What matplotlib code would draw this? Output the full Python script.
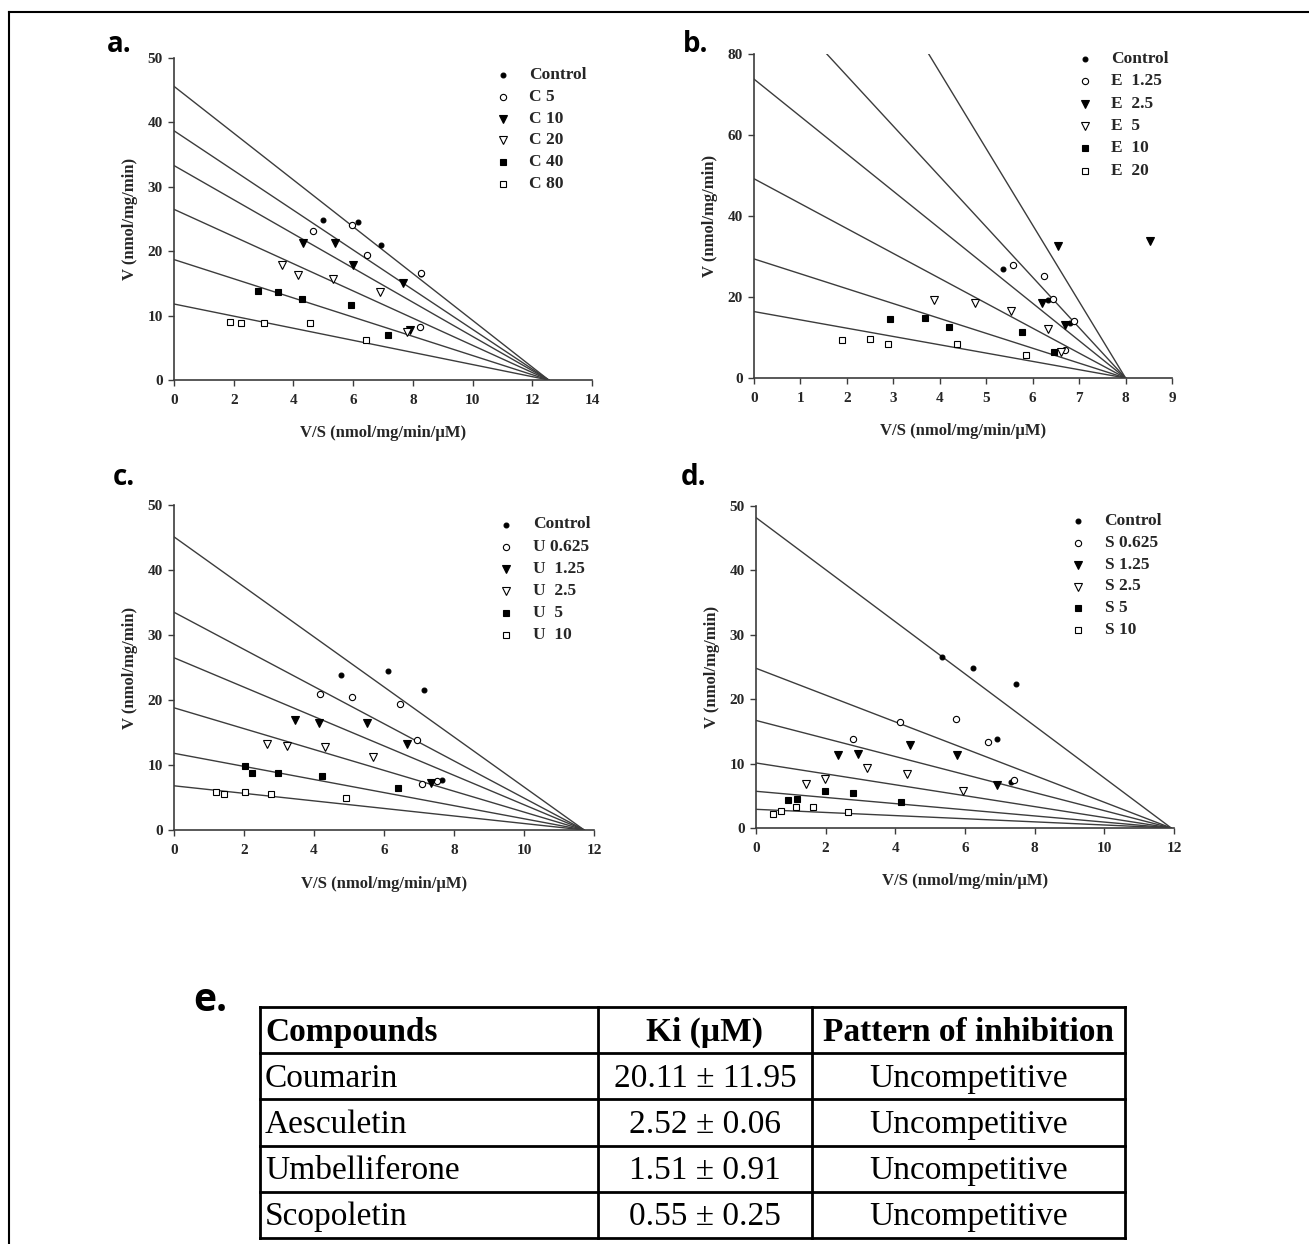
import numpy as np
import matplotlib
matplotlib.use("Agg")
import matplotlib.pyplot as plt
from matplotlib.lines import Line2D

plt.rcParams['font.family'] = ['Liberation Serif', 'DejaVu Serif']

INK = '#262626'
LINE = '#3c3c3c'

# ---- panel a: coumarin ----
A_LABELS = ['Control', 'C 5', 'C 10', 'C 20', 'C 40', 'C 80']
A_X = [[4.98, 6.17, 6.94, 8.28],
       [4.65, 5.97, 6.47, 8.26, 8.24],
       [4.32, 5.38, 5.98, 7.68, 7.89],
       [3.62, 4.16, 5.31, 6.90, 7.80],
       [2.82, 3.49, 4.30, 5.94, 7.18],
       [1.88, 2.26, 3.03, 4.54, 6.42]]
A_Y = [[24.8, 24.6, 20.9, 16.5],
       [23.2, 24.0, 19.4, 16.6, 8.3],
       [21.2, 21.2, 17.8, 15.1, 7.8],
       [17.9, 16.3, 15.7, 13.7, 7.5],
       [13.8, 13.7, 12.6, 11.7, 7.0],
       [9.0, 8.8, 8.8, 8.9, 6.2]]
A_VMAX = [45.6, 38.7, 33.3, 26.5, 18.7, 11.8]
A_XINT = 12.55

# ---- panel b: aesculetin ----
B_LABELS = ['Control', 'E  1.25', 'E  2.5', 'E  5', 'E  10', 'E  20']
B_X = [[5.36, 6.32, 6.80],
       [5.58, 6.25, 6.44, 6.69, 6.89],
       [6.55, 8.52, 6.21, 6.69],
       [3.87, 4.75, 5.53, 6.33, 6.60],
       [2.93, 3.69, 4.20, 5.76, 6.46],
       [1.90, 2.49, 2.88, 4.37, 5.85]]
B_Y = [[26.9, 19.2, 13.7],
       [28.0, 25.2, 19.4, 6.8, 14.0],
       [32.6, 33.8, 18.4, 13.0],
       [19.2, 18.6, 16.5, 12.2, 6.3],
       [14.5, 14.7, 12.5, 11.4, 6.4],
       [9.3, 9.7, 8.5, 8.5, 5.6]]
B_VMAX = [151.0, 99.5, 73.8, 49.2, 29.4, 16.4]
B_XINT = 8.0

# ---- panel c: umbelliferone ----
C_LABELS = ['Control', 'U 0.625', 'U  1.25', 'U  2.5', 'U  5', 'U  10']
C_X = [[4.78, 6.11, 7.14, 7.67],
       [4.16, 5.09, 6.46, 6.93, 7.08, 7.51],
       [3.45, 4.13, 5.52, 6.67, 7.34],
       [2.67, 3.24, 4.32, 5.69],
       [2.02, 2.24, 2.97, 4.24, 6.40],
       [1.21, 1.42, 2.02, 2.78, 4.92]]
C_Y = [[23.9, 24.5, 21.5, 7.7],
       [20.9, 20.4, 19.4, 13.9, 7.1, 7.6],
       [16.9, 16.4, 16.5, 13.3, 7.2],
       [13.2, 12.9, 12.8, 11.3],
       [9.9, 8.8, 8.8, 8.3, 6.4],
       [5.9, 5.5, 5.9, 5.5, 4.9]]
C_VMAX = [45.1, 33.5, 26.5, 18.8, 11.8, 6.8]
C_XINT = 11.72

# ---- panel d: scopoletin ----
D_LABELS = ['Control', 'S 0.625', 'S 1.25', 'S 2.5', 'S 5', 'S 10']
D_X = [[5.33, 6.22, 7.46, 6.93, 7.31],
       [4.13, 5.73, 6.66, 2.78, 7.40],
       [2.36, 2.93, 4.42, 5.78, 6.93],
       [1.43, 1.99, 3.20, 4.34, 5.93],
       [0.92, 1.19, 1.99, 2.79, 4.16],
       [0.50, 0.73, 1.15, 1.63, 2.63]]
D_Y = [[26.6, 24.9, 22.3, 13.8, 7.2],
       [16.5, 17.0, 13.3, 13.8, 7.4],
       [11.3, 11.5, 12.9, 11.3, 6.7],
       [6.9, 7.6, 9.3, 8.4, 5.7],
       [4.4, 4.5, 5.8, 5.4, 4.0],
       [2.2, 2.7, 3.2, 3.2, 2.5]]
D_VMAX = [48.2, 24.8, 16.7, 10.1, 5.7, 2.9]
D_XINT = 11.92

# ---- panel e: table ----
TABLE_HEADER = ['Compounds', 'Ki (\u00b5M)', 'Pattern of inhibition']
COMPOUNDS = ['Coumarin', 'Aesculetin', 'Umbelliferone', 'Scopoletin']
KI_VALUES = ['20.11 \u00b1 11.95', '2.52 \u00b1 0.06', '1.51 \u00b1 0.91', '0.55 \u00b1 0.25']
PATTERNS = ['Uncompetitive'] * 4

# marker styles for the six series: (marker, filled, size)
STYLES = [('o', True, 3.5), ('o', False, 4.5), ('v', True, 6),
          ('v', False, 6), ('s', True, 5), ('s', False, 5)]

W, H = 1309, 1244
fig = plt.figure(figsize=(W / 100, H / 100), dpi=100)


def box(l, t, r, b):
    return [l / W, 1 - b / H, (r - l) / W, (b - t) / H]


def panel(rect, xs, ys, vmax, xint, labels, xlim, xticks, ylim, yticks,
          leg_x, leg_y, leg_step):
    ax = fig.add_axes(rect)
    for v in vmax:
        ax.plot([0, xint], [v, 0], color=LINE, lw=1.0, zorder=2)
    for (m, filled, ms), x, y in zip(STYLES, xs, ys):
        ax.plot(x, y, ls='none', marker=m, ms=ms, mec='black', mew=0.8,
                mfc='black' if filled else 'white', zorder=3)
    ax.set_xlim(*xlim)
    ax.set_ylim(*ylim)
    ax.set_xticks(xticks)
    ax.set_yticks(yticks)
    for s in ['top', 'right']:
        ax.spines[s].set_visible(False)
    for s in ['left', 'bottom']:
        ax.spines[s].set_color(LINE)
        ax.spines[s].set_linewidth(1.2)
    ax.tick_params(direction='out', length=4, width=1, color=LINE,
                   labelsize=11, labelcolor=INK)
    ax.tick_params(axis='x', pad=6)
    ax.tick_params(axis='y', pad=4)
    for t in ax.get_xticklabels() + ax.get_yticklabels():
        t.set_fontweight('bold')
    ax.set_xlabel('V/S (nmol/mg/min/\u00b5M)', fontsize=12, fontweight='bold', color=INK)
    ax.set_ylabel('V (nmol/mg/min)', fontsize=12, fontweight='bold', color=INK)
    ax.xaxis.set_label_coords(0.5, -0.14)
    ax.yaxis.set_label_coords(-0.085, 0.5)
    # legend drawn by hand to match the original spacing
    for i, ((m, filled, ms), lab) in enumerate(zip(STYLES, labels)):
        yy = leg_y - i * leg_step
        ax.plot([leg_x], [yy], transform=ax.transAxes, ls='none', marker=m,
                ms=ms, mec='black', mew=0.8, mfc='black' if filled else 'white',
                clip_on=False)
        ax.text(leg_x + 0.064, yy, lab, transform=ax.transAxes, ha='left',
                va='center', fontsize=12.5, fontweight='bold', color=INK)
    return ax


panel(box(174, 58, 592, 380), A_X, A_Y, A_VMAX, A_XINT, A_LABELS,
      (0, 14), np.arange(0, 15, 2), (0, 50), np.arange(0, 51, 10),
      0.786, 0.948, 0.068)
panel(box(754, 54, 1172, 378), B_X, B_Y, B_VMAX, B_XINT, B_LABELS,
      (0, 9), np.arange(0, 10, 1), (0, 80), np.arange(0, 81, 20),
      0.791, 0.985, 0.069)
panel(box(174, 505, 594, 830), C_X, C_Y, C_VMAX, C_XINT, C_LABELS,
      (0, 12), np.arange(0, 13, 2), (0, 50), np.arange(0, 51, 10),
      0.791, 0.94, 0.068)
panel(box(756, 506, 1174, 828), D_X, D_Y, D_VMAX, D_XINT, D_LABELS,
      (0, 12), np.arange(0, 13, 2), (0, 50), np.arange(0, 51, 10),
      0.770, 0.954, 0.068)

# panel letters
for lab, x, y in [('a.', 107, 52), ('b.', 683, 52), ('c.', 113, 485), ('d.', 681, 485)]:
    fig.text(x / W, 1 - y / H, lab, family='Open Sans', fontweight='bold',
             fontsize=20, ha='left', va='baseline', color='black')
fig.text(193 / W, 1 - 1011 / H, 'e.', family='Open Sans', fontweight='bold',
         fontsize=28, ha='left', va='baseline', color='black')

# table
tab = fig.add_axes(box(260, 1007, 1125, 1238))
tab.set_xlim(260, 1125)
tab.set_ylim(5, 0)
tab.axis('off')
col_edges = [260, 598, 812, 1125]
for xe in col_edges:
    tab.plot([xe, xe], [0, 5], color='black', lw=2, clip_on=False)
for r in range(6):
    tab.plot([260, 1125], [r, r], color='black', lw=2, clip_on=False)
rows = [TABLE_HEADER] + [list(t) for t in zip(COMPOUNDS, KI_VALUES, PATTERNS)]
for r, row in enumerate(rows):
    for c, txt in enumerate(row):
        if c == 0:
            x, ha = col_edges[0] + 5, 'left'
        else:
            x, ha = (col_edges[c] + col_edges[c + 1]) / 2, 'center'
        tab.text(x, r + 0.55, txt, ha=ha, va='center', fontsize=24,
                 fontweight='bold' if r == 0 else 'normal', color='black')

# outer frame (top and left edges visible)
fig.add_artist(Line2D([9 / W, 1], [1 - 12 / H, 1 - 12 / H], color='black', lw=1.5))
fig.add_artist(Line2D([9 / W, 9 / W], [1 - 12 / H, 0], color='black', lw=1.5))

fig.savefig('out.png', dpi=100)
